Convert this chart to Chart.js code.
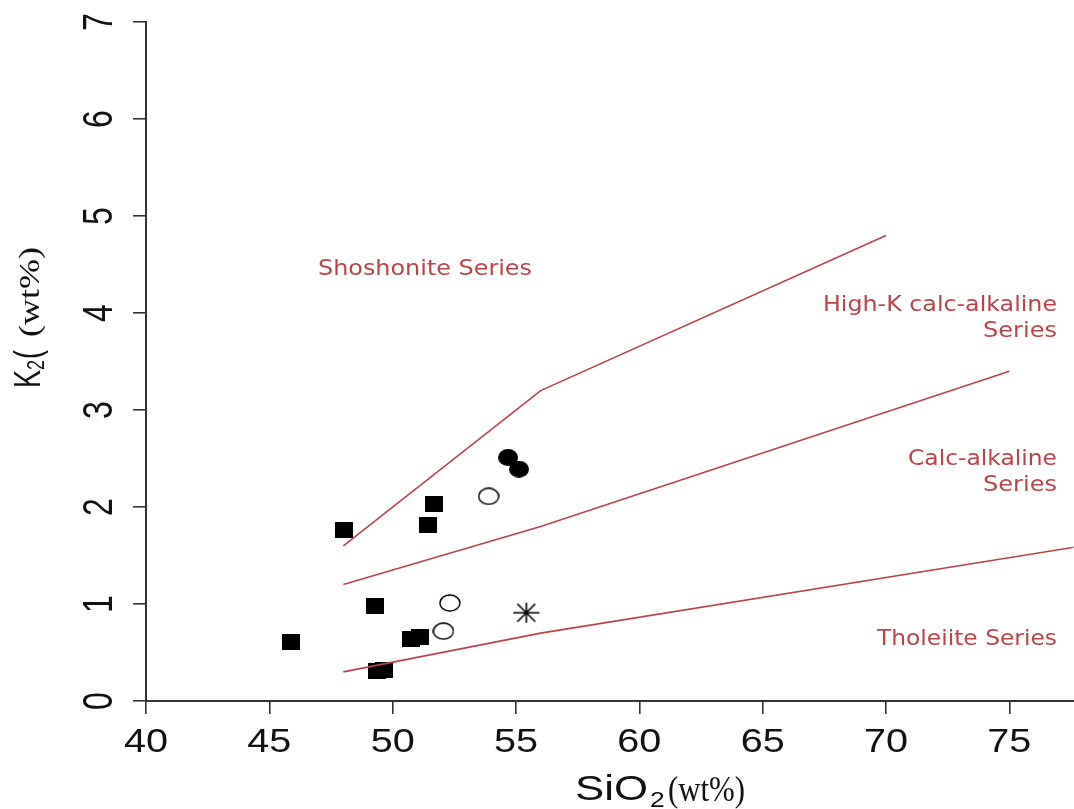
<!DOCTYPE html>
<html>
<head>
<meta charset="utf-8">
<script src="https://cdn.jsdelivr.net/npm/chart.js@4.4.1/dist/chart.umd.min.js"></script>
<style>
  html, body { margin: 0; padding: 0; background: #ffffff; }
  #plot { display: block; }
</style>
</head>
<body>
<canvas id="plot" width="1074" height="809" style="width:1074px;height:809px"></canvas>
<script>
// Axis ticks
const xTicks = [40, 45, 50, 55, 60, 65, 70, 75];
const yTicks = [0, 1, 2, 3, 4, 5, 6, 7];

// Samples: filled squares
const squareSiO2 = [48.03, 51.68, 51.44, 49.28, 45.88, 50.76, 51.10, 49.37, 49.64];
const squareK2O  = [1.76, 2.03, 1.81, 0.98, 0.61, 0.64, 0.66, 0.31, 0.32];
// Samples: filled circles
const dotSiO2 = [54.68, 55.12];
const dotK2O  = [2.51, 2.39];
// Samples: open circles
const ringSiO2 = [53.89, 52.32, 52.06];
const ringK2O  = [2.11, 1.01, 0.72];
// Sample: asterisk
const starSiO2 = [55.42];
const starK2O  = [0.91];

// Series boundaries
const shoshoniteSiO2 = [48, 56, 70];
const shoshoniteK2O  = [1.6, 3.2, 4.8];
const highKSiO2 = [48, 56, 75];
const highKK2O  = [1.2, 1.8, 3.4];
const calcAlkSiO2 = [48, 56, 78];
const calcAlkK2O  = [0.3, 0.7, 1.6];

// Field names
const fieldNames = ['Shoshonite Series', 'High-K calc-alkaline', 'Series', 'Calc-alkaline', 'Series', 'Tholeiite Series'];

const RED = '#b8444a';
const INK = '#111111';

function zip(xs, ys) { return xs.map((x, i) => ({ x: x, y: ys[i] })); }

function marker(w, h, paint) {
  const c = document.createElement('canvas');
  c.width = w; c.height = h;
  paint(c.getContext('2d'), w, h);
  return c;
}
const squareMark = marker(18, 16, (g, w, h) => { g.fillStyle = '#000'; g.fillRect(0, 0, w, h); });
const dotMark = marker(20, 17, (g, w, h) => {
  g.fillStyle = '#000'; g.beginPath(); g.ellipse(w / 2, h / 2, w / 2, h / 2, 0, 0, Math.PI * 2); g.fill();
});
const ringMark = marker(22, 18, (g, w, h) => {
  g.strokeStyle = '#000'; g.lineWidth = 1.4; g.beginPath();
  g.ellipse(w / 2, h / 2, w / 2 - 1, h / 2 - 1, 0, 0, Math.PI * 2); g.stroke();
});
const starMark = marker(28, 22, (g, w, h) => {
  g.strokeStyle = '#000'; g.lineWidth = 1.6; g.beginPath();
  g.moveTo(1, h / 2); g.lineTo(w - 1, h / 2);
  g.moveTo(w / 2, 1); g.lineTo(w / 2, h - 1);
  g.moveTo(5, 2); g.lineTo(w - 5, h - 2);
  g.moveTo(w - 5, 2); g.lineTo(5, h - 2);
  g.stroke();
});

function boundary(label, xs, ys) {
  return {
    type: 'line', label: label, data: zip(xs, ys),
    borderColor: RED, borderWidth: 1.6, pointRadius: 0, pointBorderWidth: 0,
    pointHoverRadius: 0, fill: false, tension: 0
  };
}
function samples(label, xs, ys, mark) {
  // the marker canvas sets the drawn size; the radius stays tiny so no extra layout padding is reserved
  return {
    type: 'scatter', label: label, data: zip(xs, ys),
    pointStyle: mark, pointRadius: 0.5, pointHoverRadius: 0.5, pointBorderWidth: 0,
    backgroundColor: '#000', borderColor: '#000'
  };
}

// Text drawn horizontally, stretched to a given width
function fitText(ctx, s, left, right, base, font, color) {
  ctx.save();
  ctx.font = font; ctx.fillStyle = color;
  ctx.textAlign = 'left'; ctx.textBaseline = 'alphabetic';
  const k = (right - left) / ctx.measureText(s).width;
  ctx.translate(left, base); ctx.scale(k, 1);
  ctx.fillText(s, 0, 0);
  ctx.restore();
}
function scaledText(ctx, s, x, base, font, align, sx, color) {
  ctx.save();
  ctx.font = font; ctx.fillStyle = color;
  ctx.textAlign = align; ctx.textBaseline = 'alphabetic';
  ctx.translate(x, base); ctx.scale(sx, 1);
  ctx.fillText(s, 0, 0);
  ctx.restore();
}

const labelPlugin = {
  id: 'labelPlugin',
  afterDraw(chart) {
    const ctx = chart.ctx;
    const xs = chart.scales.x, ys = chart.scales.y;

    // x tick labels
    xTicks.forEach(v => {
      scaledText(ctx, String(v), xs.getPixelForValue(v), 752, '33px "Liberation Sans", Arial, sans-serif', 'center', 1.2, INK);
    });

    // y tick labels, written along the axis
    yTicks.forEach(v => {
      ctx.save();
      ctx.translate(112, ys.getPixelForValue(v));
      ctx.rotate(-Math.PI / 2);
      ctx.scale(1, 1.3);
      ctx.font = '32px "Liberation Sans", Arial, sans-serif';
      ctx.fillStyle = INK; ctx.textAlign = 'center'; ctx.textBaseline = 'alphabetic';
      ctx.fillText(String(v), 0, 0);
      ctx.restore();
    });

    // x axis title: SiO2 (wt%)
    fitText(ctx, 'SiO', 575, 648, 800, '35px "Liberation Sans", Arial, sans-serif', INK);
    scaledText(ctx, '2', 650, 807, '22px "Liberation Sans", Arial, sans-serif', 'left', 1.2, INK);
    fitText(ctx, '(wt%)', 668, 745, 801, '36px "Liberation Serif", "Times New Roman", serif', INK);

    // y axis title: K2( (wt%)
    ctx.save();
    ctx.translate(40, 388);
    ctx.rotate(-Math.PI / 2);
    ctx.scale(1, 1.35);
    ctx.fillStyle = INK; ctx.textAlign = 'left'; ctx.textBaseline = 'alphabetic';
    ctx.font = '27px "Liberation Sans", Arial, sans-serif';
    ctx.fillText('K', 0, 0);
    const wK = ctx.measureText('K').width;
    ctx.font = '18px "Liberation Sans", Arial, sans-serif';
    ctx.fillText('2', wK, 4 / 1.35);
    const w2 = ctx.measureText('2').width;
    ctx.font = '27px "Liberation Sans", Arial, sans-serif';
    ctx.fillText('(', wK + w2 + 1, 0);
    ctx.restore();

    ctx.save();
    ctx.translate(39, 337);
    ctx.rotate(-Math.PI / 2);
    ctx.font = '32px "Liberation Serif", "Times New Roman", serif';
    ctx.fillStyle = INK; ctx.textAlign = 'left'; ctx.textBaseline = 'alphabetic';
    const kw = 90 / ctx.measureText('(wt%)').width;
    ctx.scale(kw, 0.95);
    ctx.fillText('(wt%)', 0, 0);
    ctx.restore();

    // field names
    const f = '21px "DejaVu Sans", Verdana, sans-serif';
    fitText(ctx, fieldNames[0], 318, 532, 275, f, RED);
    fitText(ctx, fieldNames[1], 823, 1057, 311, f, RED);
    fitText(ctx, fieldNames[2], 983, 1057, 337, f, RED);
    fitText(ctx, fieldNames[3], 908, 1057, 465, f, RED);
    fitText(ctx, fieldNames[4], 983, 1057, 491, f, RED);
    fitText(ctx, fieldNames[5], 877, 1057, 645, f, RED);
  }
};

new Chart(document.getElementById('plot'), {
  data: {
    datasets: [
      boundary('Shoshonite / High-K', shoshoniteSiO2, shoshoniteK2O),
      boundary('High-K / Calc-alkaline', highKSiO2, highKK2O),
      boundary('Calc-alkaline / Tholeiite', calcAlkSiO2, calcAlkK2O),
      samples('Squares', squareSiO2, squareK2O, squareMark),
      samples('Filled circles', dotSiO2, dotK2O, dotMark),
      samples('Open circles', ringSiO2, ringK2O, ringMark),
      samples('Asterisk', starSiO2, starK2O, starMark)
    ]
  },
  options: {
    responsive: false,
    animation: false,
    layout: { padding: { top: 22, left: 0, right: 0, bottom: 0 } },
    plugins: { legend: { display: false }, tooltip: { enabled: false } },
    scales: {
      x: {
        type: 'linear', position: 'bottom', min: 40, max: 77.6,
        afterBuildTicks: s => { s.ticks = xTicks.map(v => ({ value: v })); },
        afterFit: s => { s.height = 108; },
        ticks: { display: false },
        grid: { drawOnChartArea: false, drawTicks: true, tickLength: 13, color: '#333', lineWidth: 1.6 },
        border: { display: true, color: '#333', width: 2 }
      },
      y: {
        type: 'linear', position: 'left', min: 0, max: 7,
        afterBuildTicks: s => { s.ticks = yTicks.map(v => ({ value: v })); },
        afterFit: s => { s.width = 146; },
        ticks: { display: false },
        grid: { drawOnChartArea: false, drawTicks: true, tickLength: 13, color: '#333', lineWidth: 1.6 },
        border: { display: true, color: '#333', width: 2 }
      }
    }
  },
  plugins: [labelPlugin]
});
</script>
</body>
</html>
